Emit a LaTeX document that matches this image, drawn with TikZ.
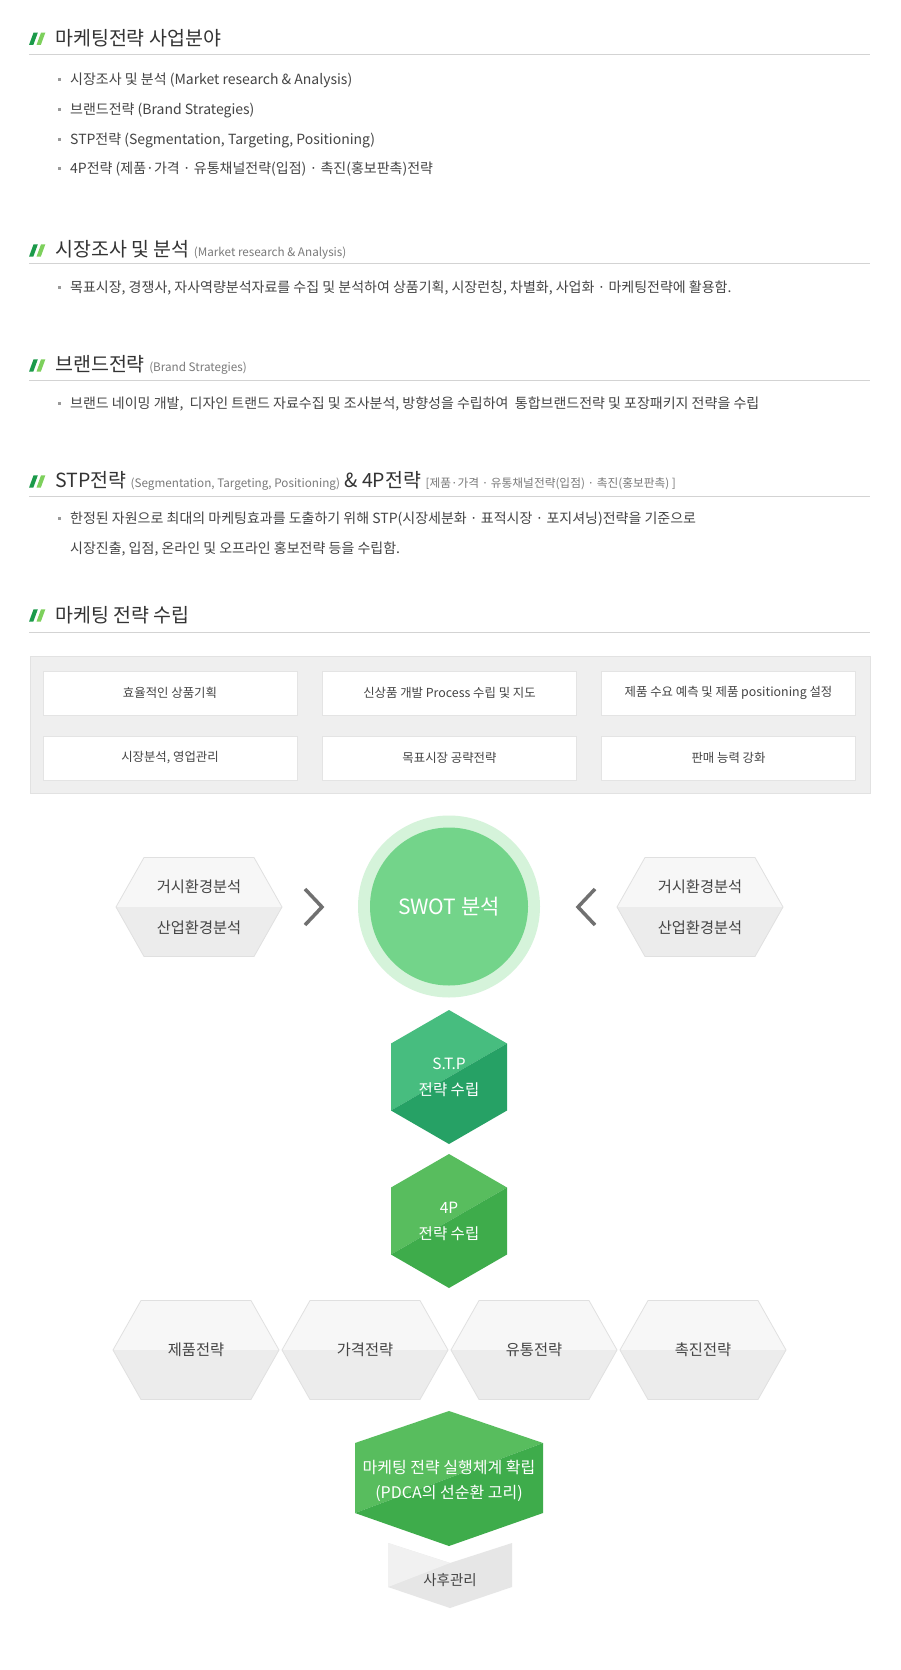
\documentclass[tikz,border=0pt]{standalone}
\usepackage{fontspec}
\setmainfont{Noto Sans CJK KR}
\definecolor{cT}{HTML}{333333}
\definecolor{cB}{HTML}{444444}
\definecolor{cSub}{HTML}{7a7a7a}
\definecolor{cRule}{HTML}{D3D3D3}
\definecolor{cBul}{HTML}{9A9A9A}
\definecolor{icoDark}{HTML}{1B9A4A}
\definecolor{icoLight}{HTML}{7DD05C}
\definecolor{gbFill}{HTML}{EFEFEF}
\definecolor{gbLine}{HTML}{E2E2E2}
\definecolor{wbLine}{HTML}{E4E4E4}
\definecolor{hexUp}{HTML}{F7F7F7}
\definecolor{hexLow}{HTML}{ECECEC}
\definecolor{hexLine}{HTML}{E0E0E0}
\definecolor{swOut}{HTML}{D5F3DA}
\definecolor{swIn}{HTML}{73D48A}
\definecolor{stpL}{HTML}{47BD7F}
\definecolor{stpD}{HTML}{26A165}
\definecolor{fpL}{HTML}{58BD5E}
\definecolor{fpD}{HTML}{3EAC4B}
\definecolor{afL}{HTML}{F1F1F1}
\definecolor{afD}{HTML}{E6E6E6}
\definecolor{chevC}{HTML}{707070}
\newcommand{\fsz}[1]{\fontsize{#1}{#1}\selectfont}
\tikzset{
  ttl/.style={anchor=west, inner sep=0pt, text=cT, font=\fsz{19.5}},
  body/.style={anchor=west, inner sep=0pt, text=cB, font=\fsz{14}},
  bul/.style={fill=cBul, minimum size=3pt, inner sep=0pt},
  hrule/.style={draw=cRule, line width=1pt},
  wbox/.style={draw=wbLine, fill=white, line width=0.8pt, minimum width=254pt, minimum height=44pt, inner sep=0pt, text=cB, font=\fsz{12.4}},
  hextxt/.style={inner sep=0pt, text=cB, font=\fsz{15.3}},
  wtxt/.style={inner sep=0pt, text=white, font=\fsz{15.5}},
  chev/.style={draw=chevC, line width=3.5pt, miter limit=10},
}
\newcommand{\subt}[1]{{\fsz{11.7}\color{cSub}#1}}
\newcommand{\mkicon}[1]{%
  \begin{scope}[shift={(0,#1)}]
    \fill[icoDark] (29,6.7) -- (33.3,6.7) -- (37.8,-5.6) -- (33.5,-5.6) -- cycle;
    \fill[icoLight] (36.5,6.7) -- (40.8,6.7) -- (45.3,-5.6) -- (41,-5.6) -- cycle;
  \end{scope}}
\newcommand{\bitem}[3]{%
  \node[bul] (#1b) at (59.5,#2-1) {};
  \node[body] (#1) at (70,#2) {#3};}
\newcommand{\sidehex}[2]{%
  \begin{scope}[shift={(#1,#2)}]
    \fill[hexUp] (-83,0) -- (-55,-49.5) -- (55,-49.5) -- (83,0) -- cycle;
    \fill[hexLow] (-83,0) -- (83,0) -- (55,49.5) -- (-55,49.5) -- cycle;
    \draw[hexLine, line width=0.8pt] (-83,0) -- (-55,-49.5) -- (55,-49.5) -- (83,0) -- (55,49.5) -- (-55,49.5) -- cycle;
  \end{scope}}
\newcommand{\greenhex}[4]{%
  \begin{scope}[shift={(#1,#2)}]
    \fill[#3] (58,-33.5) -- (0,-67) -- (-58,-33.5) -- (-58,33.5) -- cycle;
    \fill[#4] (58,-33.5) -- (58,33.5) -- (0,67) -- (-58,33.5) -- cycle;
  \end{scope}}
\begin{document}
\begin{tikzpicture}[x=1pt,y=-1pt]
\useasboundingbox (0,0) rectangle (900,1670);
\fill[white] (0,0) rectangle (900,1670);

% ---------- Section 1
\mkicon{38.3}
\node[ttl] (t1) at (55,38.3) {마케팅전략 사업분야};
\draw[hrule] (29,54.5) -- (870,54.5);
\bitem{b11}{80}{시장조사 및 분석 (Market research \& Analysis)}
\bitem{b12}{110}{브랜드전략 (Brand Strategies)}
\bitem{b13}{140}{STP전략 (Segmentation, Targeting, Positioning)}
\bitem{b14}{169}{4P전략 (제품·가격 · 유통채널전략(입점) · 촉진(홍보판촉)전략}

% ---------- Section 2
\mkicon{250}
\node[ttl] (t2) at (55,250) {시장조사 및 분석 \subt{(Market research \& Analysis)}};
\draw[hrule] (29,263.5) -- (870,263.5);
\bitem{b21}{288}{목표시장, 경쟁사, 자사역량분석자료를 수집 및 분석하여 상품기획, 시장런칭, 차별화, 사업화 · 마케팅전략에 활용함.}

% ---------- Section 3
\mkicon{365}
\node[ttl] (t3) at (55,365) {브랜드전략 \subt{(Brand Strategies)}};
\draw[hrule] (29,380) -- (870,380);
\bitem{b31}{404}{브랜드 네이밍 개발,\ \ 디자인 트랜드 자료수집 및 조사분석, 방향성을 수립하여\ \ 통합브랜드전략 및 포장패키지 전략을 수립}

% ---------- Section 4
\mkicon{481}
\node[ttl] (t4) at (55,481) {STP전략 \subt{(Segmentation, Targeting, Positioning)} \& 4P전략 \subt{[제품·가격 · 유통채널전략(입점) · 촉진(홍보판촉) ]}};
\draw[hrule] (29,496) -- (870,496);
\bitem{b41}{519}{한정된 자원으로 최대의 마케팅효과를 도출하기 위해 STP(시장세분화 · 표적시장 · 포지셔닝)전략을 기준으로}
\node[body] (b42) at (70,549) {시장진출, 입점, 온라인 및 오프라인 홍보전략 등을 수립함.};

% ---------- Section 5
\mkicon{615}
\node[ttl] (t5) at (55,615) {마케팅 전략 수립};
\draw[hrule] (29,632) -- (870,632);

\filldraw[fill=gbFill, draw=gbLine, line width=1pt] (30,656) rectangle (870,793);
\node[wbox] (w1) at (170,693) {효율적인 상품기획};
\node[wbox] (w2) at (449.5,693) {신상품 개발 Process 수립 및 지도};
\node[wbox] (w3) at (728.5,693) {제품 수요 예측 및 제품 positioning 설정};
\node[wbox] (w4) at (170,758) {시장분석, 영업관리};
\node[wbox] (w5) at (449.5,758) {목표시장 공략전략};
\node[wbox] (w6) at (728.5,758) {판매 능력 강화};

% ---------- SWOT row
\sidehex{199}{907}
\sidehex{700}{907}
\node[hextxt] (lh1) at (199,887) {거시환경분석};
\node[hextxt] (lh2) at (199,928) {산업환경분석};
\node[hextxt] (rh1) at (700,887) {거시환경분석};
\node[hextxt] (rh2) at (700,928) {산업환경분석};

\coordinate (cl1) at (305,889);
\coordinate (cl2) at (322,907);
\coordinate (cl3) at (305,925);
\draw[chev] (cl1) -- (cl2) -- (cl3);
\coordinate (cr1) at (595,889);
\coordinate (cr2) at (578,907);
\coordinate (cr3) at (595,925);
\draw[chev] (cr1) -- (cr2) -- (cr3);

\fill[swOut] (449,906.5) circle[radius=91];
\fill[swIn] (449,906.5) circle[radius=79];
\node[inner sep=0pt, text=white, font=\fsz{21}] (swot) at (449,906.5) {SWOT 분석};

% ---------- STP and 4P
\greenhex{449}{1077}{stpL}{stpD}
\node[wtxt] (stp1) at (449,1064) {S.T.P};
\node[wtxt] (stp2) at (449,1090) {전략 수립};

\greenhex{449}{1221}{fpL}{fpD}
\node[wtxt] (fp1) at (449,1208) {4P};
\node[wtxt] (fp2) at (449,1234) {전략 수립};

% ---------- 4 strategies
\sidehex{196}{1350}
\sidehex{365}{1350}
\sidehex{534}{1350}
\sidehex{703}{1350}
\node[hextxt] (s1) at (196,1350) {제품전략};
\node[hextxt] (s2) at (365,1350) {가격전략};
\node[hextxt] (s3) at (534,1350) {유통전략};
\node[hextxt] (s4) at (703,1350) {촉진전략};

% ---------- PDCA
\fill[fpL] (543,1443) -- (449,1411) -- (355,1443) -- (355,1513) -- cycle;
\fill[fpD] (543,1443) -- (543,1513) -- (449,1546) -- (355,1513) -- cycle;
\node[inner sep=0pt, text=white, font=\fsz{16}] (pd1) at (449,1467) {마케팅 전략 실행체계 확립};
\node[inner sep=0pt, text=white, font=\fsz{16}] (pd2) at (449,1493) {(PDCA의 선순환 고리)};

% ---------- After care
\fill[afD] (388,1543) -- (450,1563) -- (512,1543) -- (512,1587) -- (450,1608) -- (388,1587) -- cycle;
\fill[afL] (388,1543) -- (450,1563) -- (388,1587) -- cycle;
\node[inner sep=0pt, text=cB, font=\fsz{14.5}] (af) at (450,1580) {사후관리};
\end{tikzpicture}
\end{document}
